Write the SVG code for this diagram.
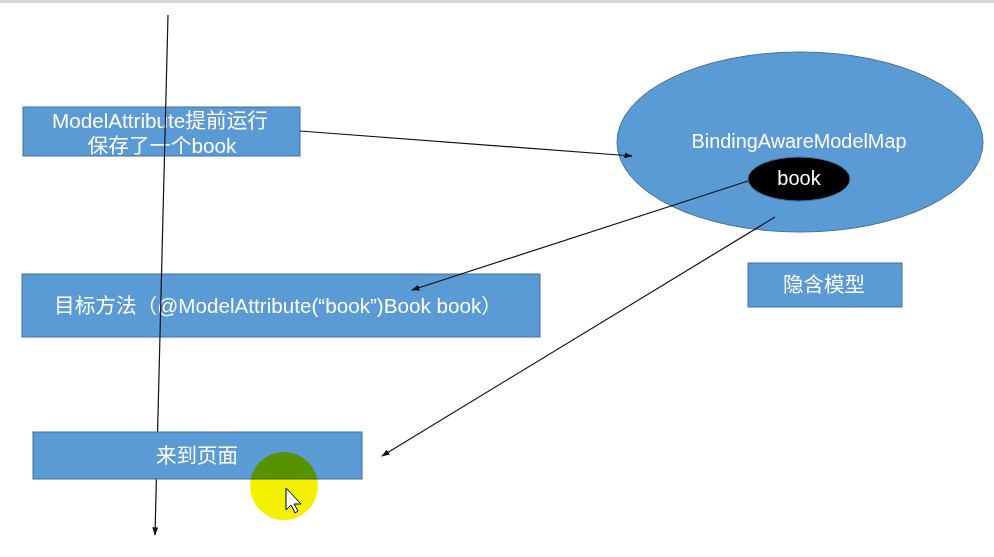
<svg xmlns="http://www.w3.org/2000/svg" width="994" height="557" viewBox="0 0 994 557">
<defs>
<style>
.box{fill:#5B9BD5;stroke:#41719C;stroke-width:1}
.t{fill:#fff;font-family:"Liberation Sans","Noto Sans CJK SC",sans-serif;font-size:20px;text-anchor:middle}
.ln{stroke:#111;stroke-width:1.2;fill:none}
</style>
<marker id="ah" viewBox="0 0 10 10" refX="9" refY="5" markerWidth="7" markerHeight="7" orient="auto-start-reverse">
<path d="M0,1.5 L10,5 L0,8.5 z" fill="#111"/>
</marker>
</defs>
<rect x="0" y="0" width="994" height="557" fill="#fff"/>
<rect x="0" y="0" width="994" height="3" fill="#d8d8d8"/>
<g id="node-modelattr">
<rect class="box" x="23" y="107" width="277" height="49"/>
<text class="t" x="160" y="128" textLength="216" lengthAdjust="spacingAndGlyphs">ModelAttribute提前运行</text>
<text class="t" x="162" y="153" textLength="149" lengthAdjust="spacingAndGlyphs">保存了一个book</text>
</g>
<g id="node-target">
<rect class="box" x="22" y="274" width="518" height="63"/>
<text class="t" x="54" y="313" style="text-anchor:start" textLength="448" lengthAdjust="spacingAndGlyphs">目标方法（@ModelAttribute(“book”)Book book）</text>
</g>
<g id="connectors">
<path class="ln" d="M168,15 L155,535" marker-end="url(#ah)"/>
</g>
<g id="node-page">
<rect class="box" x="33" y="432" width="329" height="47"/>
<text class="t" x="197" y="463" textLength="82" lengthAdjust="spacingAndGlyphs">来到页面</text>
</g>
<g id="node-map">
<ellipse cx="800" cy="142" rx="183" ry="90" fill="#5B9BD5" stroke="#41719C"/>
<text class="t" x="799" y="148" textLength="215" lengthAdjust="spacingAndGlyphs">BindingAwareModelMap</text>
</g>
<g id="node-book">
<ellipse cx="799" cy="179" rx="51" ry="22" fill="#000" stroke="#41719C"/>
<text class="t" x="799" y="185">book</text>
</g>
<g id="node-implicit">
<rect class="box" x="748" y="263" width="154" height="44"/>
<text class="t" x="824" y="292" textLength="82" lengthAdjust="spacingAndGlyphs">隐含模型</text>
</g>
<g id="connectors2">
<path class="ln" d="M300,131 L632,156" marker-end="url(#ah)"/>
<path class="ln" d="M748,181 L412,290" marker-end="url(#ah)"/>
<path class="ln" d="M775,217 L382,456" marker-end="url(#ah)"/>
</g>
<g id="cursor">
<circle cx="284" cy="486" r="34" fill="#f5f000" style="mix-blend-mode:multiply"/>
<path d="M286,488 L286,510 L291,505 L295,513 L298,511 L294,504 L301,504 Z" fill="#fff" stroke="#000" stroke-width="1"/>
</g>
</svg>
